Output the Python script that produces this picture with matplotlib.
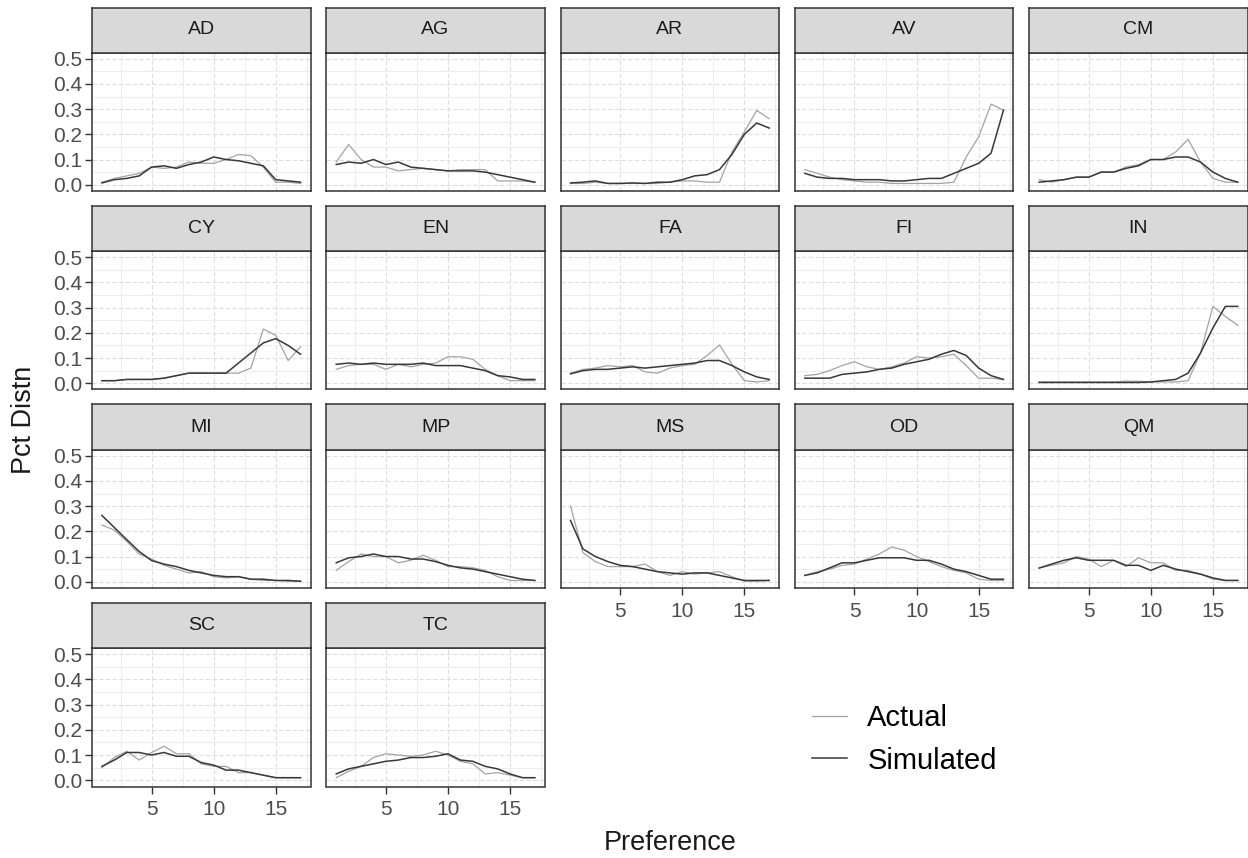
import matplotlib
matplotlib.use("Agg")
import matplotlib.pyplot as plt
from matplotlib.lines import Line2D

plt.rcParams['font.family'] = ['Liberation Sans', 'DejaVu Sans']

# data
preference = list(range(1, 18))
groups = ["AD", "AG", "AR", "AV", "CM", "CY", "EN", "FA", "FI", "IN",
          "MI", "MP", "MS", "OD", "QM", "SC", "TC"]

actual = {
    "AD": [0.01, 0.025, 0.035, 0.045, 0.07, 0.065, 0.07, 0.09, 0.085, 0.085, 0.1, 0.12, 0.115, 0.07, 0.01, 0.01, 0.005],
    "AG": [0.09, 0.16, 0.1, 0.07, 0.07, 0.055, 0.06, 0.065, 0.06, 0.055, 0.06, 0.06, 0.06, 0.015, 0.015, 0.015, 0.01],
    "AR": [0.005, 0.005, 0.01, 0.005, 0.005, 0.005, 0.005, 0.005, 0.01, 0.015, 0.015, 0.01, 0.01, 0.13, 0.21, 0.295, 0.262],
    "AV": [0.06, 0.045, 0.03, 0.02, 0.015, 0.01, 0.01, 0.005, 0.005, 0.005, 0.005, 0.005, 0.01, 0.11, 0.19, 0.32, 0.296],
    "CM": [0.02, 0.01, 0.02, 0.03, 0.03, 0.05, 0.05, 0.07, 0.08, 0.1, 0.1, 0.13, 0.18, 0.09, 0.025, 0.01, 0.01],
    "CY": [0.01, 0.01, 0.015, 0.015, 0.015, 0.02, 0.03, 0.04, 0.04, 0.04, 0.04, 0.04, 0.06, 0.215, 0.19, 0.09, 0.145],
    "EN": [0.055, 0.07, 0.075, 0.075, 0.055, 0.075, 0.065, 0.075, 0.08, 0.105, 0.105, 0.095, 0.055, 0.03, 0.01, 0.01, 0.01],
    "FA": [0.04, 0.055, 0.06, 0.07, 0.065, 0.07, 0.045, 0.04, 0.06, 0.07, 0.075, 0.11, 0.152, 0.075, 0.01, 0.005, 0.01],
    "FI": [0.03, 0.035, 0.05, 0.07, 0.085, 0.065, 0.055, 0.065, 0.08, 0.105, 0.1, 0.105, 0.115, 0.07, 0.02, 0.02, 0.015],
    "IN": [0.005, 0.005, 0.005, 0.005, 0.005, 0.005, 0.005, 0.008, 0.008, 0.005, 0.005, 0.005, 0.01, 0.12, 0.305, 0.265, 0.23],
    "MI": [0.225, 0.205, 0.16, 0.11, 0.09, 0.065, 0.05, 0.035, 0.04, 0.02, 0.015, 0.02, 0.01, 0.005, 0.005, 0.002, 0.002],
    "MP": [0.045, 0.08, 0.11, 0.1, 0.1, 0.075, 0.085, 0.105, 0.085, 0.06, 0.06, 0.055, 0.045, 0.02, 0.005, 0.005, 0.005],
    "MS": [0.3, 0.115, 0.08, 0.06, 0.06, 0.06, 0.07, 0.04, 0.025, 0.04, 0.03, 0.035, 0.04, 0.02, 0.002, 0.002, 0.005],
    "OD": [0.025, 0.04, 0.05, 0.065, 0.07, 0.09, 0.11, 0.138, 0.125, 0.1, 0.08, 0.06, 0.045, 0.035, 0.01, 0.005, 0.005],
    "QM": [0.055, 0.065, 0.075, 0.1, 0.09, 0.06, 0.085, 0.06, 0.095, 0.075, 0.075, 0.045, 0.045, 0.03, 0.01, 0.005, 0.005],
    "SC": [0.05, 0.09, 0.115, 0.08, 0.11, 0.135, 0.105, 0.105, 0.065, 0.055, 0.055, 0.03, 0.03, 0.02, 0.01, 0.01, 0.01],
    "TC": [0.01, 0.035, 0.055, 0.09, 0.105, 0.1, 0.095, 0.1, 0.115, 0.1, 0.075, 0.065, 0.025, 0.03, 0.02, 0.01, 0.01],
}

simulated = {
    "AD": [0.007, 0.02, 0.025, 0.035, 0.07, 0.075, 0.065, 0.08, 0.09, 0.11, 0.1, 0.095, 0.085, 0.075, 0.02, 0.015, 0.01],
    "AG": [0.08, 0.09, 0.085, 0.1, 0.08, 0.09, 0.07, 0.065, 0.06, 0.055, 0.055, 0.055, 0.05, 0.04, 0.03, 0.02, 0.01],
    "AR": [0.007, 0.01, 0.015, 0.005, 0.005, 0.007, 0.005, 0.01, 0.01, 0.02, 0.035, 0.04, 0.06, 0.12, 0.2, 0.245, 0.225],
    "AV": [0.045, 0.03, 0.025, 0.025, 0.02, 0.02, 0.02, 0.015, 0.015, 0.02, 0.025, 0.025, 0.045, 0.065, 0.085, 0.125, 0.296],
    "CM": [0.01, 0.015, 0.02, 0.03, 0.03, 0.05, 0.05, 0.065, 0.075, 0.1, 0.1, 0.11, 0.11, 0.09, 0.05, 0.025, 0.01],
    "CY": [0.01, 0.01, 0.015, 0.015, 0.015, 0.02, 0.03, 0.04, 0.04, 0.04, 0.04, 0.08, 0.12, 0.16, 0.177, 0.15, 0.115],
    "EN": [0.075, 0.08, 0.075, 0.08, 0.075, 0.075, 0.075, 0.08, 0.07, 0.07, 0.07, 0.06, 0.05, 0.03, 0.025, 0.015, 0.015],
    "FA": [0.037, 0.05, 0.055, 0.055, 0.06, 0.065, 0.06, 0.065, 0.07, 0.075, 0.08, 0.09, 0.09, 0.07, 0.045, 0.025, 0.015],
    "FI": [0.02, 0.02, 0.02, 0.035, 0.04, 0.045, 0.055, 0.06, 0.075, 0.085, 0.095, 0.115, 0.13, 0.11, 0.06, 0.03, 0.015],
    "IN": [0.003, 0.003, 0.003, 0.003, 0.003, 0.003, 0.003, 0.003, 0.003, 0.005, 0.01, 0.015, 0.04, 0.12, 0.22, 0.305, 0.305],
    "MI": [0.263, 0.215, 0.167, 0.12, 0.084, 0.07, 0.06, 0.045, 0.035, 0.025, 0.02, 0.02, 0.01, 0.01, 0.005, 0.005, 0.002],
    "MP": [0.075, 0.095, 0.1, 0.11, 0.1, 0.1, 0.09, 0.09, 0.08, 0.065, 0.055, 0.05, 0.04, 0.03, 0.02, 0.01, 0.005],
    "MS": [0.243, 0.13, 0.1, 0.08, 0.065, 0.06, 0.05, 0.04, 0.035, 0.03, 0.035, 0.035, 0.025, 0.015, 0.005, 0.005, 0.005],
    "OD": [0.025, 0.035, 0.055, 0.075, 0.075, 0.085, 0.095, 0.095, 0.095, 0.085, 0.085, 0.07, 0.05, 0.04, 0.025, 0.01, 0.01],
    "QM": [0.054, 0.07, 0.085, 0.095, 0.085, 0.085, 0.085, 0.065, 0.065, 0.045, 0.065, 0.05, 0.04, 0.03, 0.015, 0.005, 0.005],
    "SC": [0.055, 0.08, 0.11, 0.11, 0.1, 0.11, 0.095, 0.095, 0.07, 0.06, 0.04, 0.04, 0.03, 0.02, 0.01, 0.01, 0.01],
    "TC": [0.025, 0.045, 0.055, 0.065, 0.075, 0.08, 0.09, 0.09, 0.095, 0.105, 0.08, 0.075, 0.055, 0.045, 0.025, 0.01, 0.01],
}

y_ticks = [0.0, 0.1, 0.2, 0.3, 0.4, 0.5]
x_ticks = [5, 10, 15]

ACTUAL_COL = "#a3a3a3"
SIM_COL = "#383838"
BORDER = "#333333"

W, H = 1248, 858
fig = plt.figure(figsize=(W / 100, H / 100), dpi=100)

# layout in pixels (facet grid 5 columns)
ncol = 5
left0, col_pitch, pan_w = 92, 234.3, 218.5
top0, row_pitch, strip_h, pan_h = 7.5, 198.5, 45, 138.5

for i, g in enumerate(groups):
    r, c = divmod(i, ncol)
    x0 = left0 + c * col_pitch
    strip_top = top0 + r * row_pitch
    pan_top = strip_top + strip_h

    ax = fig.add_axes([x0 / W, 1 - (pan_top + pan_h) / H, pan_w / W, pan_h / H])
    sax = fig.add_axes([x0 / W, 1 - (strip_top + strip_h) / H, pan_w / W, strip_h / H])

    # strip
    sax.set_facecolor("#d9d9d9")
    sax.set_xticks([])
    sax.set_yticks([])
    for sp in sax.spines.values():
        sp.set_color(BORDER)
        sp.set_linewidth(1.1)
    sax.text(0.5, 0.5, g, ha="center", va="center", fontsize=14, color="#1a1a1a",
             transform=sax.transAxes)

    # panel
    ax.set_xlim(0.2, 17.8)
    ax.set_ylim(-0.025, 0.525)
    ax.set_xticks(x_ticks)
    ax.set_yticks(y_ticks)
    ax.set_xticks([2.5, 7.5, 12.5, 17.5], minor=True)
    ax.set_yticks([0.05, 0.15, 0.25, 0.35, 0.45], minor=True)
    ax.grid(which="major", color="#dedede", linewidth=0.8, linestyle=(0, (4, 2)))
    ax.grid(which="minor", color="#eeeeee", linewidth=0.8)
    ax.set_axisbelow(True)
    for sp in ax.spines.values():
        sp.set_color(BORDER)
        sp.set_linewidth(1.1)

    ax.plot(preference, actual[g], color=ACTUAL_COL, linewidth=0.9)
    ax.plot(preference, simulated[g], color=SIM_COL, linewidth=1.1)

    ax.tick_params(which="minor", length=0)
    ax.tick_params(which="major", length=5, width=1, color="#333333",
                   labelsize=15, labelcolor="#4d4d4d")
    ax.tick_params(axis="y", pad=2)
    ax.tick_params(axis="x", pad=5)
    if c == 0:
        ax.set_yticklabels([f"{v:.1f}" for v in y_ticks])
    else:
        ax.tick_params(axis="y", length=0, labelleft=False)
    # bottom-most panel in each column gets x labels
    if i + ncol >= len(groups):
        ax.set_xticklabels([str(v) for v in x_ticks])
    else:
        ax.tick_params(axis="x", length=0, labelbottom=False)

fig.text((left0 + W) / 2 / W, 1 - 843 / H, "Preference", ha="center", va="center",
         fontsize=19.5, color="#1a1a1a")
fig.text(24 / W, 1 - 419.5 / H, "Pct Distn", ha="center", va="center",
         rotation=90, fontsize=19.5, color="#1a1a1a")

handles = [Line2D([], [], color=ACTUAL_COL, linewidth=0.9),
           Line2D([], [], color=SIM_COL, linewidth=1.1)]
fig.legend(handles, ["Actual", "Simulated"], loc="upper left",
           bbox_to_anchor=(812 / W, 1 - 704 / H), frameon=False,
           borderaxespad=0, borderpad=0,
           fontsize=21, handlelength=1.2, handletextpad=0.7, labelspacing=0.5)

fig.savefig("out.png", dpi=100)
